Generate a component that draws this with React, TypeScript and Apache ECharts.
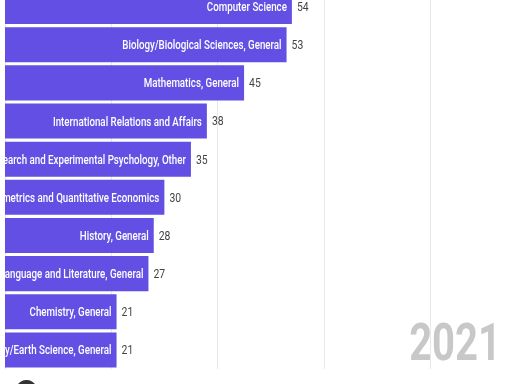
import React, { useEffect, useRef } from "react";
import * as echarts from "echarts";

const categories = [
  "Computer Science",
  "Biology/Biological Sciences, General",
  "Mathematics, General",
  "International Relations and Affairs",
  "Research and Experimental Psychology, Other",
  "Econometrics and Quantitative Economics",
  "History, General",
  "English Language and Literature, General",
  "Chemistry, General",
  "Geology/Earth Science, General",
];
const values = [54, 53, 45, 38, 35, 30, 28, 27, 21, 21];
const yearLabel = "2021";

const FONT = "Roboto, sans-serif";

export default function App() {
  const ref = useRef<HTMLDivElement>(null);
  useEffect(() => {
    if (!ref.current) return;
    const chart = echarts.init(ref.current, null, { renderer: "svg" });
    chart.setOption({
      animation: false,
      grid: {
        left: 5,
        width: 531.25,
        top: -12.5,
        height: 381.5,
        containLabel: false,
        outerBoundsMode: "none",
      },
      xAxis: {
        type: "value",
        min: 0,
        max: 100,
        interval: 20,
        z: 1,
        axisLabel: { show: false },
        axisLine: { show: false },
        axisTick: { show: false },
        splitLine: { show: true, lineStyle: { color: "#e8e8e8", width: 1 } },
      },
      yAxis: {
        type: "category",
        data: categories,
        inverse: true,
        show: false,
      },
      series: [
        {
          type: "bar",
          data: values,
          barCategoryGap: "8%",
          itemStyle: { color: "#5b46e1", opacity: 0.95 },
          z: 2,
        },
        {
          type: "custom",
          z: 4,
          data: values.map((v, i) => [v, i]),
          encode: { x: 0, y: 1 },
          renderItem: (params: any, api: any) => {
            const v = api.value(0);
            const i = api.value(1);
            const p = api.coord([v, i]);
            return {
              type: "group",
              children: [
                {
                  type: "text",
                  x: p[0] - 5,
                  y: p[1],
                  scaleX: 0.75,
                  style: {
                    text: categories[i],
                    fill: "#ffffff",
                    font: `500 13px ${FONT}`,
                    align: "right",
                    verticalAlign: "middle",
                    textAlign: "right",
                    textVerticalAlign: "middle",
                  },
                },
                {
                  type: "text",
                  x: p[0] + 5,
                  y: p[1],
                  scaleX: 0.8,
                  style: {
                    text: String(v),
                    fill: "#444444",
                    font: `13px ${FONT}`,
                    align: "left",
                    verticalAlign: "middle",
                    textAlign: "left",
                    textVerticalAlign: "middle",
                  },
                },
              ],
            };
          },
        },
      ],
      graphic: [
        {
          type: "text",
          x: 501,
          y: 342,
          scaleX: 0.77,
          z: -1,
          style: {
            text: yearLabel,
            fill: "#c8c8c8",
            font: `bold 52px ${FONT}`,
            align: "right",
            verticalAlign: "middle",
            textAlign: "right",
            textVerticalAlign: "middle",
          },
        },
        {
          type: "circle",
          shape: { cx: 26.5, cy: 391, r: 11 },
          style: { fill: "#333333" },
        },
      ],
    });
    return () => chart.dispose();
  }, []);
  return <div ref={ref} style={{ width: 512, height: 384, position: "fixed", left: 0, top: 0 }} />;
}
